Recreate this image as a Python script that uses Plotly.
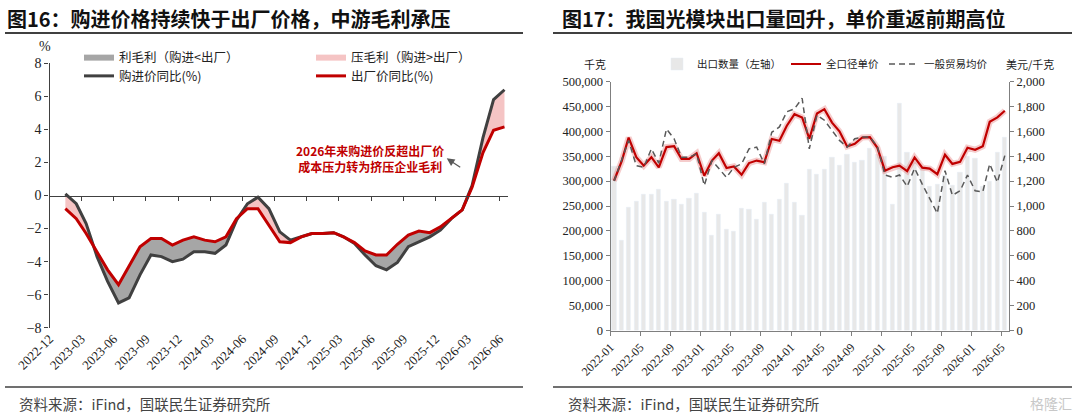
import numpy as np
import pandas as pd
import plotly.graph_objects as go

# ---- left panel data: PPI purchase vs ex-factory yoy (%) ----
months_l = pd.period_range("2023-01", "2026-06", freq="M")
buy_yoy = [0.1, -0.5, -1.7, -3.7, -5.2, -6.5, -6.2, -4.8, -3.6, -3.7, -4.0, -3.85,
           -3.4, -3.4, -3.5, -3.0, -1.5, -0.5, -0.1, -0.8, -2.2, -2.7, -2.5, -2.3,
           -2.3, -2.25, -2.5, -2.9, -3.6, -4.25, -4.5, -4.05, -3.1, -2.8, -2.5, -2.1,
           -1.4, -0.87, 0.6, 3.5, 5.8, 6.4]
ex_yoy = [-0.8, -1.4, -2.3, -3.4, -4.5, -5.4, -4.3, -3.1, -2.6, -2.6, -3.0, -2.7,
          -2.5, -2.7, -2.8, -2.5, -1.4, -0.8, -0.8, -1.8, -2.8, -2.85, -2.5, -2.3,
          -2.3, -2.25, -2.5, -2.85, -3.35, -3.6, -3.6, -2.95, -2.4, -2.15, -2.25, -1.9,
          -1.4, -0.87, 0.5, 2.6, 3.95, 4.15]
ticks_l = pd.period_range("2022-12", "2026-06", freq="3M")

# ---- right panel data: optical module exports ----
months_r = pd.period_range("2022-01", "2026-05", freq="M")
export_kg = [329000, 180000, 248000, 260000, 274000, 274000, 284000, 260000, 263000, 253000,
             266000, 275000, 236000, 190000, 233000, 203000, 199000, 245000, 242000, 223000,
             257000, 232000, 263000, 295000, 257000, 231000, 324000, 314000, 324000, 348000,
             331000, 353000, 338000, 342000, 365000, 353000, 350000, 254000, 455000, 358000,
             340000, 325000, 290000, 294000, 312000, 292000, 318000, 350000, 345000, 290000,
             300000, 358000, 387000]
unit_price = [1203, 1360, 1549, 1392, 1324, 1392, 1311, 1473, 1480, 1378, 1378, 1424,
              1243, 1365, 1424, 1305, 1318, 1251, 1345, 1365, 1351, 1538, 1524, 1645,
              1737, 1711, 1540, 1743, 1778, 1670, 1600, 1478, 1500, 1550, 1554, 1470,
              1284, 1311, 1324, 1280, 1390, 1308, 1300, 1255, 1412, 1338, 1354, 1468,
              1452, 1480, 1676, 1712, 1765]
general_price = [1200, 1380, 1527, 1324, 1311, 1459, 1345, 1618, 1540, 1392, 1392, 1419,
                 1165, 1365, 1305, 1230, 1311, 1338, 1459, 1473, 1338, 1592, 1635, 1757,
                 1780, 1865, 1459, 1730, 1689, 1608, 1527, 1473, 1540, 1554, 1554, 1480,
                 1250, 1230, 1249, 1157, 1303, 1176, 1054, 941, 1284, 1086, 1122, 1249,
                 1122, 1114, 1338, 1190, 1405]
ticks_r = pd.period_range("2022-01", "2026-05", freq="4M")

SERIF = "Liberation Serif"
CJK = "Noto Sans CJK SC"
RED = "#C00000"
DARK = "#404040"

xl = months_l.to_timestamp() + pd.Timedelta(days=14)
xr = months_r.to_timestamp() + pd.Timedelta(days=14)


def with_crossings(x, a, b):
    # insert the points where the two series cross so each fill closes cleanly
    t = x.asi8.astype(float)
    a = np.asarray(a, float)
    b = np.asarray(b, float)
    xs, av, bv = [t[0]], [a[0]], [b[0]]
    for k in range(1, len(t)):
        d0, d1 = a[k - 1] - b[k - 1], a[k] - b[k]
        if d0 * d1 < 0:
            f = d0 / (d0 - d1)
            xs.append(t[k - 1] + f * (t[k] - t[k - 1]))
            v = a[k - 1] + f * (a[k] - a[k - 1])
            av.append(v)
            bv.append(v)
        xs.append(t[k])
        av.append(a[k])
        bv.append(b[k])
    return pd.to_datetime(np.array(xs).astype("int64")), np.array(av), np.array(bv)


fx, fbuy, fex = with_crossings(xl, buy_yoy, ex_yoy)

fig = go.Figure()

# pink: purchase above ex-factory
fig.add_trace(go.Scatter(x=fx, y=fex, mode="lines", line=dict(width=0), showlegend=False, hoverinfo="skip"))
fig.add_trace(go.Scatter(x=fx, y=np.maximum(fbuy, fex), mode="lines", line=dict(width=0),
                         fill="tonexty", fillcolor="#F5C4C4", name="压毛利（购进>出厂）", legend="legend2"))
# gray: purchase below ex-factory
fig.add_trace(go.Scatter(x=fx, y=fex, mode="lines", line=dict(width=0), showlegend=False, hoverinfo="skip"))
fig.add_trace(go.Scatter(x=fx, y=np.minimum(fbuy, fex), mode="lines", line=dict(width=0),
                         fill="tonexty", fillcolor="#A6A6A6", name="利毛利（购进<出厂）", legend="legend"))

fig.add_trace(go.Scatter(x=xl, y=buy_yoy, mode="lines", line=dict(color=DARK, width=3),
                         name="购进价同比(%)", legend="legend"))
fig.add_trace(go.Scatter(x=xl, y=ex_yoy, mode="lines", line=dict(color=RED, width=3),
                         name="出厂价同比(%)", legend="legend2", xaxis="x3"))

# right panel
fig.add_trace(go.Bar(x=xr, y=export_kg, marker_color="#E8E8E8", width=17 * 86400000,
                     name="出口数量（左轴）", xaxis="x2", yaxis="y2", legend="legend3"))
fig.add_trace(go.Scatter(x=xr, y=unit_price, mode="lines", line=dict(color="rgba(225,110,110,0.35)", width=6),
                         showlegend=False, hoverinfo="skip", xaxis="x2", yaxis="y3"))
fig.add_trace(go.Scatter(x=xr, y=unit_price, mode="lines", line=dict(color=RED, width=2.2),
                         name="全口径单价", xaxis="x2", yaxis="y3", legend="legend3"))
fig.add_trace(go.Scatter(x=xr, y=general_price, mode="lines", line=dict(color="#595959", width=1.5, dash="6px,4px"),
                         name="一般贸易均价", xaxis="x2", yaxis="y3", legend="legend3"))

W, H = 1080, 418


def px(x):
    return x / W


def py(y):
    return 1 - y / H


ldom = [px(49.5), px(508)]
lydom = [py(327.7), py(63.3)]
rdom = [px(610.6), px(1009)]
rydom = [py(330.5), py(81.5)]
xrange_l = ["2022-12-01", "2026-06-25"]

tick_font_l = dict(family=SERIF, size=14, color="#222")
leg_font = dict(family=CJK, size=12.5, color="#222")

fig.update_layout(
    width=W, height=H, margin=dict(l=0, r=0, t=0, b=0, autoexpand=False),
    paper_bgcolor="white", plot_bgcolor="white",
    font=dict(family=CJK, color="#222"),
    bargap=0,
    xaxis=dict(domain=ldom, anchor="y", type="date", range=xrange_l, automargin=False,
               tickvals=ticks_l.to_timestamp(), ticktext=[p.strftime("%Y-%m") for p in ticks_l],
               tickangle=-45, tickfont=dict(family=SERIF, size=13, color="#222"),
               showline=False, ticks="", showgrid=False, zeroline=False),
    xaxis3=dict(overlaying="x", anchor="free", position=(lydom[0] + lydom[1]) / 2, type="date",
                range=xrange_l, tickvals=ticks_l.to_timestamp(), showticklabels=False, automargin=False,
                showline=True, linecolor=DARK, linewidth=1.2, ticks="outside", ticklen=4,
                tickcolor=DARK, showgrid=False, zeroline=False),
    yaxis=dict(domain=lydom, anchor="x", range=[-8, 8], dtick=2, showgrid=False, zeroline=False,
               showline=True, linecolor=DARK, linewidth=1.2, ticks="outside", ticklen=4,
               tickcolor=DARK, tickfont=tick_font_l, automargin=False),
    xaxis2=dict(domain=rdom, anchor="y2", type="date", range=["2022-01-01", "2026-06-01"],
                tickvals=ticks_r.to_timestamp(), ticktext=[p.strftime("%Y-%m") for p in ticks_r],
                tickangle=-45, tickfont=dict(family=SERIF, size=12, color="#222"), automargin=False,
                showline=True, linecolor="#7F7F7F", linewidth=1.2, ticks="outside", ticklen=4,
                tickcolor="#7F7F7F", showgrid=False, zeroline=False),
    yaxis2=dict(domain=rydom, anchor="x2", range=[0, 500000], dtick=50000, tickformat=",d",
                showgrid=False, zeroline=False, showline=True, linecolor="#7F7F7F", linewidth=1.2,
                ticks="outside", ticklen=4, tickcolor="#7F7F7F", automargin=False,
                tickfont=dict(family=SERIF, size=12.5, color="#222")),
    yaxis3=dict(overlaying="y2", side="right", anchor="x2", range=[0, 2000], dtick=200, tickformat=",d",
                showgrid=False, zeroline=False, showline=True, linecolor="#7F7F7F", linewidth=1.2,
                ticks="outside", ticklen=4, tickcolor="#7F7F7F", automargin=False,
                tickfont=dict(family=SERIF, size=12.5, color="#222")),
    legend=dict(x=px(79), y=py(42), xanchor="left", yanchor="top", font=leg_font,
                bgcolor="rgba(0,0,0,0)", tracegroupgap=0, itemwidth=30, traceorder="normal"),
    legend2=dict(x=px(311), y=py(42), xanchor="left", yanchor="top", font=leg_font,
                 bgcolor="rgba(0,0,0,0)", tracegroupgap=0, itemwidth=30, traceorder="normal"),
    legend3=dict(x=px(657), y=py(64), xanchor="left", yanchor="middle", orientation="h",
                 font=dict(family=CJK, size=10.5, color="#222"), bgcolor="rgba(0,0,0,0)", itemwidth=30),
)

annots = [
    dict(x=px(5), y=py(18), text="<b>图16：购进价格持续快于出厂价格，中游毛利承压</b>",
         font=dict(family=CJK, size=20, color="#111")),
    dict(x=px(560), y=py(18), text="<b>图17：我国光模块出口量回升，单价重返前期高位</b>",
         font=dict(family=CJK, size=20, color="#111")),
    dict(x=px(17), y=py(403), text="资料来源：iFind，国联民生证券研究所",
         font=dict(family=CJK, size=14.5, color="#444")),
    dict(x=px(566), y=py(403), text="资料来源：iFind，国联民生证券研究所",
         font=dict(family=CJK, size=14.5, color="#444")),
    dict(x=px(1028), y=py(403), text="格隆汇", font=dict(family=CJK, size=14, color="#C8C8C8")),
    dict(x=px(37), y=py(47), text="%", font=dict(family=SERIF, size=14, color="#222")),
    dict(x=px(582), y=py(64), text="千克", font=dict(family=CJK, size=11, color="#222")),
    dict(x=px(1004), y=py(64), text="美元/千克", font=dict(family=CJK, size=11, color="#222")),
]
for a in annots:
    fig.add_annotation(xref="paper", yref="paper", xanchor="left", yanchor="middle",
                       showarrow=False, **a)

fig.add_annotation(x=px(370), y=py(158), xref="paper", yref="paper", showarrow=False,
                   xanchor="center", yanchor="middle",
                   text="<b>2026年来购进价反超出厂价<br>成本压力转为挤压企业毛利</b>",
                   font=dict(family=CJK, size=12, color=RED), align="center")
fig.add_annotation(x="2026-01-02", y=2.25, xref="x", yref="y", text="", showarrow=True,
                   arrowhead=2, arrowsize=1.2, arrowwidth=1.3, arrowcolor="#595959", ax=15, ay=10)

for x0, x1 in [(5, 523), (553, 1072)]:
    fig.add_shape(type="line", xref="paper", yref="paper", x0=px(x0), x1=px(x1), y0=py(33), y1=py(33),
                  line=dict(color=DARK, width=2))
    fig.add_shape(type="line", xref="paper", yref="paper", x0=px(x0), x1=px(x1), y0=py(387), y1=py(387),
                  line=dict(color=DARK, width=1.5))

# the page's default body margin would push the figure 8px off the window
fig.write_html("out.html", config={"displayModeBar": False},
               post_script="document.body.style.margin = '0';")
